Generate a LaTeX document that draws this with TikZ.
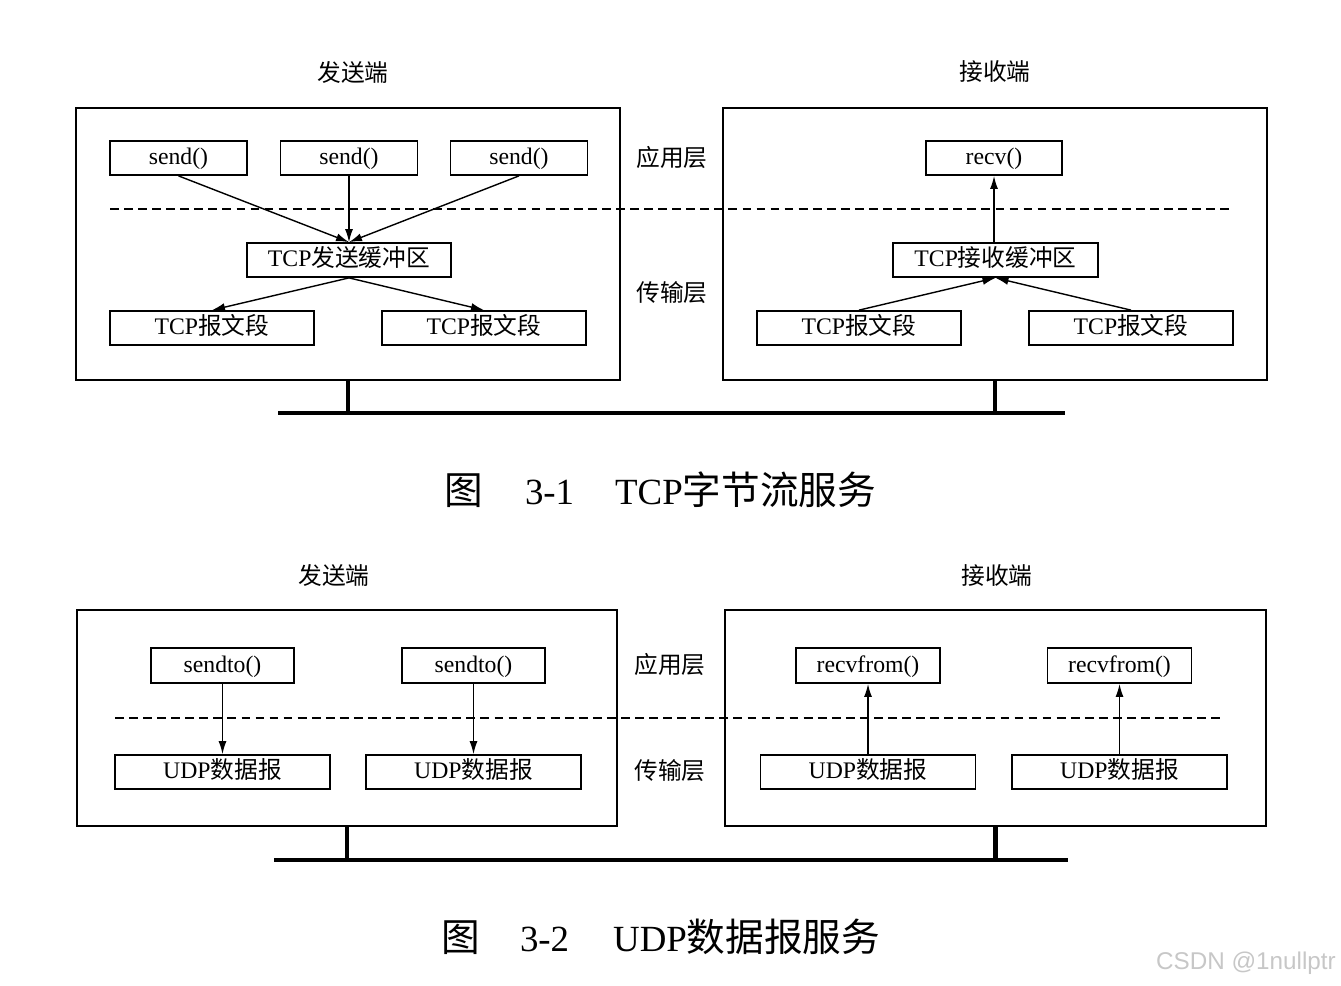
\documentclass[tikz,border=0pt]{standalone}
\usepackage{fontspec}
\setmainfont{Liberation Serif}
\setsansfont{Liberation Sans}
\newfontfamily\cjk{Noto Sans CJK SC}
\newcommand{\bigcjk}{\cjk\fontsize{22}{26}\selectfont}
\usetikzlibrary{arrows.meta,positioning}

\begin{document}
\begin{tikzpicture}[x=0.02cm,y=-0.02cm,
  box/.style={draw, line width=1pt, inner sep=0pt, minimum height=0.68cm,
    text height=0.88em, text depth=0.12em, font=\fontsize{13.5}{15}\selectfont},
  host/.style={draw, line width=1.1pt, inner sep=0pt},
  lbl/.style={font=\cjk\fontsize{13.5}{15}\selectfont},
  figcap/.style={anchor=west, inner sep=0pt, font=\fontsize{21}{25}\selectfont},
  arr/.style={-{Latex[length=2.6mm,width=1.6mm]}, line width=0.8pt},
  layer/.style={dashed, dash pattern=on 5pt off 3pt, line width=0.8pt},
  net/.style={line width=2.3pt}]
\useasboundingbox (0,0) rectangle (1341,985);

% ---- TCP
\node[lbl] (tsnd) at (353,72) {发送端};
\node[lbl] (trcv) at (995,72) {接收端};
\node[host, minimum width=10.88cm, minimum height=5.44cm] (tcpS) at (348,244) {};
\node[host, minimum width=10.88cm, minimum height=5.44cm] (tcpR) at (995,244) {};
\draw[layer] (110,209) -- (1232,209);
\node[lbl] (tapp) at (672,157) {应用层};
\node[lbl] (ttr) at (672,293) {传输层};

\foreach \x/\n in {178.5/A, 349/B, 519/C}
  \node[box, minimum width=2.74cm] (snd\n) at (\x,158) {send()};
\node[box, minimum width=4.08cm] (sbuf) at (349,260) {TCP{\cjk 发送缓冲区}};
\foreach \x/\n in {212/A, 484/B}
  \node[box, minimum width=4.08cm] (seg\n) at (\x,328) {TCP{\cjk 报文段}};
\foreach \n in {A,B,C}
  \draw[arr] (snd\n.south) -- (sbuf.north);
\foreach \n in {A,B}
  \draw[arr] (sbuf.south) -- (seg\n.north);

\node[box, minimum width=2.72cm] (recv) at (994,158) {recv()};
\node[box, minimum width=4.1cm] (rbuf) at (995.5,260) {TCP{\cjk 接收缓冲区}};
\foreach \x/\n in {859/A, 1131/B}
  \node[box, minimum width=4.08cm] (rseg\n) at (\x,328) {TCP{\cjk 报文段}};
\draw[arr] (rbuf.north -| recv.south) -- (recv.south);
\foreach \n in {A,B}
  \draw[arr] (rseg\n.north) -- (rbuf.south);

\coordinate (busA) at (278,413);
\coordinate (busB) at (1065,413);
\draw[net] (busA) -- (busB);
\draw[net] (tcpS.south) -- (tcpS.south |- busA);
\draw[net] (tcpR.south) -- (tcpR.south |- busA);

\node[figcap] (cap1) at (444,490) {{\bigcjk 图}\hspace{0.84cm}3-1\hspace{0.82cm}TCP{\bigcjk 字节流服务}};

% ---- UDP
\node[lbl] (usnd) at (334,575) {发送端};
\node[lbl] (urcv) at (997,575) {接收端};
\node[host, minimum width=10.8cm, minimum height=4.32cm] (udpS) at (347,718) {};
\node[host, minimum width=10.82cm, minimum height=4.32cm] (udpR) at (995.5,718) {};
\draw[layer, line width=1pt] (115,718) -- (1222,718);
\node[lbl] (uapp) at (670,664) {应用层};
\node[lbl] (utr) at (670,771) {传输层};

\foreach \x/\n in {222.5/A, 473.5/B} {
  \node[box, minimum width=2.86cm, minimum height=0.7cm] (sto\n) at (\x,665.5) {sendto()};
  \node[box, minimum width=4.3cm] (udp\n) at (\x,772) {UDP{\cjk 数据报}};
  \draw[arr] (sto\n.south) -- (udp\n.north);
}
\foreach \x/\n in {868/A, 1119.5/B} {
  \node[box, minimum width=2.88cm, minimum height=0.7cm] (rfr\n) at (\x,665.5) {recvfrom()};
  \node[box, minimum width=4.3cm] (rudp\n) at (\x,772) {UDP{\cjk 数据报}};
  \draw[arr] (rudp\n.north) -- (rfr\n.south);
}

\coordinate (busC) at (274,860);
\coordinate (busD) at (1068,860);
\draw[net] (busC) -- (busD);
\draw[net] (udpS.south) -- (udpS.south |- busC);
\draw[net] (udpR.south) -- (udpR.south |- busC);

\node[figcap] (cap2) at (441,937) {{\bigcjk 图}\hspace{0.8cm}3-2\hspace{0.88cm}UDP{\bigcjk 数据报服务}};

\node[font=\sffamily\fontsize{13.8}{16}\selectfont, text=black!22] (mark) at (1246,963) {CSDN @1nullptr};
\end{tikzpicture}
\end{document}
